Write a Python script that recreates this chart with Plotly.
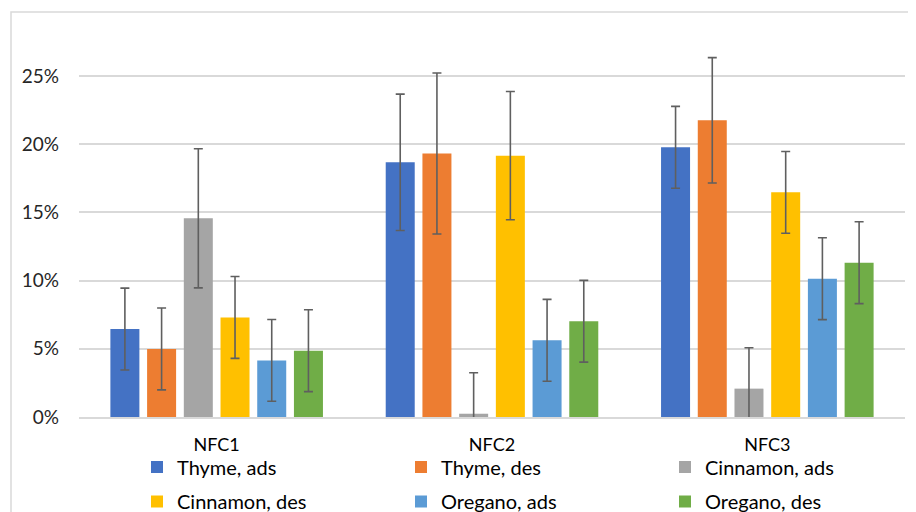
import plotly.graph_objects as go

categories = ["NFC1", "NFC2", "NFC3"]
series_names = ["Thyme, ads", "Thyme, des", "Cinnamon, ads",
                "Cinnamon, des", "Oregano, ads", "Oregano, des"]
colors = ["#4472C4", "#ED7D31", "#A5A5A5", "#FFC000", "#5B9BD5", "#70AD47"]

thyme_ads = [0.0645, 0.1867, 0.1977]
thyme_des = [0.0499, 0.1932, 0.2175]
cinnamon_ads = [0.1457, 0.0024, 0.0208]
cinnamon_des = [0.0730, 0.1916, 0.1647]
oregano_ads = [0.0415, 0.0562, 0.1014]
oregano_des = [0.0486, 0.0702, 0.1131]

thyme_ads_err = [0.030, 0.050, 0.030]
thyme_des_err = [0.030, 0.059, 0.046]
cinnamon_ads_err = [0.051, 0.030, 0.030]
cinnamon_des_err = [0.030, 0.047, 0.030]
oregano_ads_err = [0.030, 0.030, 0.030]
oregano_des_err = [0.030, 0.030, 0.030]

values = [thyme_ads, thyme_des, cinnamon_ads, cinnamon_des, oregano_ads, oregano_des]
errors = [thyme_ads_err, thyme_des_err, cinnamon_ads_err, cinnamon_des_err,
          oregano_ads_err, oregano_des_err]

FONT = "Lato"
fig = go.Figure()
for i, (name, vals, errs, col) in enumerate(zip(series_names, values, errors, colors)):
    fig.add_trace(go.Bar(
        x=categories, y=vals, name=name,
        marker=dict(color=col, line=dict(width=0)),
        error_y=dict(type="data", array=errs, visible=True,
                     color="#5f5f5f", thickness=1.6, width=4.5),
        legend="legend" if i < 3 else "legend2",
    ))

# The page body adds an 8px offset; targets below are screen pixels.
OFF = 8
W, H = 916, 512
L = 79 - OFF
T = 21 - OFF
AXIS_Y = 417 - OFF
B = H - AXIS_Y
R = W - (905 - OFF)
plot_w = W - L - R
plot_h = H - T - B


def py(pix):
    return (AXIS_Y - (pix - OFF)) / plot_h


def px(pix):
    return ((pix - OFF) - L) / plot_w


legend_common = dict(
    orientation="h", xref="paper", yref="paper",
    x=px(137), xanchor="left", yanchor="middle",
    entrywidth=219, entrywidthmode="pixels",
    font=dict(family=FONT, size=20, color="#000000"),
    bgcolor="rgba(0,0,0,0)", borderwidth=0, traceorder="normal",
)

fig.update_layout(
    width=W, height=H,
    margin=dict(l=L, r=R, t=T, b=B, autoexpand=False),
    paper_bgcolor="white", plot_bgcolor="white",
    barmode="group", bargap=0.2, bargroupgap=0.21,
    font=dict(family=FONT, size=18, color="#333333"),
    legend=dict(legend_common, y=py(467)),
    legend2=dict(legend_common, y=py(501.5)),
    xaxis=dict(showline=True, linecolor="#d9d9d9", linewidth=2,
               showgrid=False, ticks="", ticklabelstandoff=10,
               tickfont=dict(family=FONT, size=18, color="#000000")),
    yaxis=dict(range=[0, (AXIS_Y - T) / 1364], dtick=0.05, tickformat=".0%",
               showgrid=True, gridcolor="#d9d9d9", gridwidth=1.5,
               zeroline=False, showline=False, ticks="",
               ticklabelstandoff=19,
               tickfont=dict(family=FONT, size=19, color="#262626")),
    shapes=[dict(type="rect", xref="paper", yref="paper",
                 x0=px(11), x1=1.2,
                 y0=-0.5, y1=py(12),
                 line=dict(color="#d9d9d9", width=1.5), fillcolor="rgba(0,0,0,0)",
                 layer="below")],
)

fig.write_html("out.html")
